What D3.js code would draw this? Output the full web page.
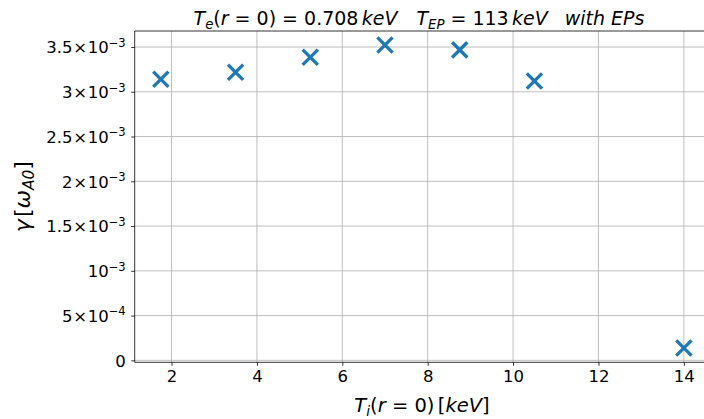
<!DOCTYPE html>
<html>
<head>
<meta charset="utf-8">
<script src="https://cdn.jsdelivr.net/npm/d3@7/dist/d3.min.js"></script>
<style>
  html, body { margin: 0; padding: 0; background: #fff; }
  svg { display: block; }
  svg text { font-family: "DejaVu Sans", sans-serif; }
  .grid line { stroke: #b0b0b0; stroke-width: 0.8; }
</style>
</head>
<body>
<svg id="chart" width="704" height="419"></svg>
<script>
// Growth rate vs. central ion temperature
const tiValues    = [1.75, 3.5, 5.25, 7.0, 8.75, 10.5, 14.0];
const gammaValues = [3.14e-3, 3.218e-3, 3.386e-3, 3.523e-3, 3.468e-3, 3.121e-3, 1.38e-4];

const xTickValues = [2, 4, 6, 8, 10, 12, 14];
const yTickValues    = [0, 5e-4, 1e-3, 1.5e-3, 2e-3, 2.5e-3, 3e-3, 3.5e-3];
const yTickMantissas = ["0", "5", "", "1.5", "2", "2.5", "3", "3.5"];
const yTickExponents = ["", "−4", "−3", "−3", "−3", "−3", "−3", "−3"];

const xDomain = [1.1375, 14.6125];
const yDomain = [-2.2e-5, 3.679e-3];

const svg = d3.select("#chart");
const W = 704, H = 419;
const plot = { left: 134.7, right: 710, top: 31, bottom: 362.3 };

const x = d3.scaleLinear().domain(xDomain).range([plot.left, plot.right]);
const y = d3.scaleLinear().domain(yDomain).range([plot.bottom, plot.top]);

const blue = "#1f77b4";
const fs = 16.5;
const FONT = "DejaVu Sans";

// grid
const grid = svg.append("g").attr("class", "grid");
grid.selectAll("line.gx").data(xTickValues).join("line")
  .attr("class", "gx")
  .attr("x1", d => x(d)).attr("x2", d => x(d))
  .attr("y1", plot.top).attr("y2", plot.bottom);
grid.selectAll("line.gy").data(yTickValues).join("line")
  .attr("class", "gy")
  .attr("x1", plot.left).attr("x2", plot.right)
  .attr("y1", d => y(d)).attr("y2", d => y(d));

// x axis
const xAxis = d3.axisBottom(x).tickValues(xTickValues).tickSize(3.5).tickPadding(3.5)
  .tickFormat(d3.format("d"));
const gx = svg.append("g").attr("transform", `translate(0,${plot.bottom})`).call(xAxis);
gx.attr("font-size", null).attr("font-family", null)
  .style("font-family", FONT).style("font-size", fs + "px");
gx.select(".domain").remove();
gx.selectAll(".tick line").attr("stroke", "#000").attr("stroke-width", 0.8);
gx.selectAll(".tick text")
  .style("font-size", fs + "px").style("font-family", FONT)
  .attr("fill", "#000").attr("dy", "0.76em");

// y axis
const yAxis = d3.axisLeft(y).tickValues(yTickValues).tickSize(3.5).tickFormat(() => "");
const gy = svg.append("g").attr("transform", `translate(${plot.left},0)`).call(yAxis);
gy.attr("font-size", null).attr("font-family", null)
  .style("font-family", FONT).style("font-size", fs + "px");
gy.select(".domain").remove();
gy.selectAll(".tick line").attr("stroke", "#000").attr("stroke-width", 0.8);
gy.selectAll(".tick text").remove();
gy.selectAll(".tick").each(function (d, i) {
  const t = d3.select(this).append("text")
    .attr("x", -9).attr("y", 5.9)
    .attr("text-anchor", "end")
    .style("font-family", FONT)
    .style("font-size", fs + "px").attr("fill", "#000");
  const m = yTickMantissas[i], e = yTickExponents[i];
  if (e === "") {
    t.text(m);
  } else {
    if (m !== "") {
      t.append("tspan").text(m);
      t.append("tspan").attr("dx", fs * 0.04).text("×");
      t.append("tspan").attr("dx", fs * 0.04).text("10");
    } else {
      t.append("tspan").text("10");
    }
    t.append("tspan").style("font-size", (fs * 0.7) + "px").attr("dy", -6.6).text(e);
  }
});

// spines
svg.append("line").attr("x1", plot.left).attr("x2", plot.left)
  .attr("y1", plot.top).attr("y2", plot.bottom).attr("stroke", "#000").attr("stroke-width", 0.8);
svg.append("line").attr("x1", plot.left).attr("x2", plot.right)
  .attr("y1", plot.bottom).attr("y2", plot.bottom).attr("stroke", "#000").attr("stroke-width", 0.8);
svg.append("line").attr("x1", plot.left).attr("x2", plot.right)
  .attr("y1", plot.top).attr("y2", plot.top).attr("stroke", "#000").attr("stroke-width", 0.8);

// markers
const r = 7.6;
const pts = svg.append("g").selectAll("g").data(tiValues.map((t, i) => [t, gammaValues[i]])).join("g")
  .attr("transform", d => `translate(${x(d[0])},${y(d[1])})`);
pts.append("line").attr("x1", -r).attr("y1", -r).attr("x2", r).attr("y2", r)
  .attr("stroke", blue).attr("stroke-width", 3.3);
pts.append("line").attr("x1", -r).attr("y1", r).attr("x2", r).attr("y2", -r)
  .attr("stroke", blue).attr("stroke-width", 3.3);

// builds a math-style label from pieces
function addPiece(textSel, txt, opts = {}) {
  const ts = textSel.append("tspan").text(txt).attr("font-style", opts.it ? "italic" : "normal");
  if (opts.size) ts.style("font-size", opts.size + "px");
  if (opts.dy) ts.attr("dy", opts.dy);
  if (opts.dx) ts.attr("dx", opts.dx);
  return ts;
}

// title
const titleSize = 19;
const title = svg.append("text").attr("x", 419).attr("y", 25)
  .attr("text-anchor", "middle").style("font-family", FONT)
  .style("font-size", titleSize + "px").attr("fill", "#000");
{
  const s = titleSize;
  addPiece(title, "T", { it: true });
  addPiece(title, "e", { it: true, size: s * 0.7, dy: s * 0.2 });
  addPiece(title, "(", { dy: -s * 0.2 });
  addPiece(title, "r", { it: true });
  addPiece(title, " = 0) = 0.708");
  addPiece(title, "keV", { it: true, dx: s * 0.17 });
  addPiece(title, "T", { it: true, dx: s * 1.0 });
  addPiece(title, "EP", { it: true, size: s * 0.7, dy: s * 0.2 });
  addPiece(title, " = 113", { dy: -s * 0.2 });
  addPiece(title, "keV", { it: true, dx: s * 0.17 });
  addPiece(title, "with EPs", { it: true, dx: s * 0.9 });
}

// x label
const xlSize = 19.5;
const xl = svg.append("text").attr("x", 422).attr("y", 412)
  .attr("text-anchor", "middle").style("font-family", FONT)
  .style("font-size", xlSize + "px").attr("fill", "#000");
{
  const s = xlSize;
  addPiece(xl, "T", { it: true });
  addPiece(xl, "i", { it: true, size: s * 0.7, dy: s * 0.2 });
  addPiece(xl, "(", { dy: -s * 0.2 });
  addPiece(xl, "r", { it: true });
  addPiece(xl, " = 0)");
  addPiece(xl, "[", { dx: s * 0.17 });
  addPiece(xl, "keV", { it: true });
  addPiece(xl, "]");
}

// y label
const ylSize = 22;
const yl = svg.append("text")
  .attr("transform", `translate(30,${(plot.top + plot.bottom) / 2}) rotate(-90)`)
  .attr("text-anchor", "middle").style("font-family", FONT)
  .style("font-size", ylSize + "px").attr("fill", "#000");
{
  const s = ylSize;
  addPiece(yl, "γ", { it: true });
  addPiece(yl, "[", { dx: s * 0.1 });
  addPiece(yl, "ω", { it: true });
  addPiece(yl, "A0", { it: true, size: s * 0.7, dy: s * 0.2 });
  addPiece(yl, "]", { dy: -s * 0.2 });
}
</script>
</body>
</html>
